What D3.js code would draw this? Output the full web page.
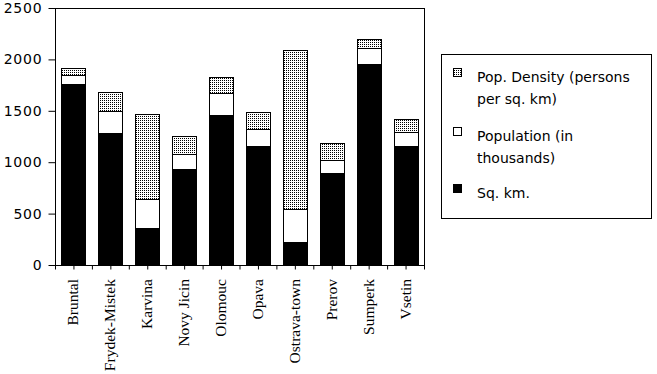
<!DOCTYPE html>
<html>
<head>
<meta charset="utf-8">
<script src="https://cdn.jsdelivr.net/npm/d3@7"></script>
<style>
  body { margin: 0; background: #fff; }
  text { font-family: "DejaVu Sans", sans-serif; font-size: 14px; fill: #000; }
  .xlab { font-family: "Liberation Serif", "Times New Roman", serif; font-size: 15.5px; }
</style>
</head>
<body>
<script>
const districts = ["Bruntal", "Frydek-Mistek", "Karvina", "Novy Jicin", "Olomouc", "Opava",
                   "Ostrava-town", "Prerov", "Sumperk", "Vsetin"];
const sqKm       = [1761, 1284, 360, 934, 1459, 1158, 224, 895, 1955, 1158];
const population = [90, 214, 279, 146, 214, 168, 321, 126, 156, 136];
const density    = [62, 182, 827, 175, 153, 159, 1543, 162, 84, 126];
const yTicks = [0, 500, 1000, 1500, 2000, 2500];
const seriesNames = [["Pop. Density (persons", "per sq. km)"], ["Population (in", "thousands)"], ["Sq. km."]];

const width = 657, height = 374;
const plotL = 55, plotR = 424, plotT = 8, plotB = 265;

const svg = d3.select("body").append("svg").attr("width", width).attr("height", height);

const defs = svg.append("defs");
const pat = defs.append("pattern").attr("id", "dots")
    .attr("patternUnits", "userSpaceOnUse").attr("width", 2).attr("height", 2);
pat.append("rect").attr("width", 2).attr("height", 2).attr("fill", "#fff");
pat.append("rect").attr("width", 1).attr("height", 1).attr("fill", "#000");

const x = d3.scaleBand().domain(districts).range([plotL, plotR]).paddingInner(0.35).paddingOuter(0.175);
const y = d3.scaleLinear().domain([0, 2500]).range([plotB, plotT]);

const rows = districts.map((d, i) => ({ name: d, sq: sqKm[i], pop: population[i], den: density[i] }));
const stack = d3.stack().keys(["sq", "pop", "den"])(rows);
const fills = { sq: "#000", pop: "#fff", den: "url(#dots)" };

// frame
svg.append("rect").attr("x", plotL + 0.5).attr("y", plotT + 0.5).attr("width", plotR - plotL).attr("height", plotB - plotT)
    .attr("fill", "none").attr("stroke", "#000");

svg.append("g").selectAll("g").data(stack).enter().append("g")
    .attr("fill", s => fills[s.key])
    .selectAll("rect").data(s => s).enter().append("rect")
    .attr("x", d => Math.round(x(d.data.name)) + 0.5)
    .attr("y", d => Math.round(y(d[1])) + 0.5)
    .attr("width", Math.round(x.bandwidth()))
    .attr("height", d => Math.round(y(d[0])) - Math.round(y(d[1])))
    .attr("stroke", "#000").attr("stroke-width", 1);

// y axis
const yAxis = svg.append("g").attr("transform", `translate(${plotL + 0.5},0)`)
    .call(d3.axisLeft(y).tickValues(yTicks).tickSize(7).tickPadding(6).tickFormat(d3.format("d")));
yAxis.select(".domain").remove();
yAxis.selectAll("text").style("font-family", "DejaVu Sans, sans-serif").style("font-size", "14px")
    .style("letter-spacing", "0.8px").attr("fill", "#000");
yAxis.selectAll("line").attr("stroke", "#000");

// x axis ticks at half band steps
const xi = d3.scaleLinear().domain([0, districts.length]).range([plotL, plotR]);
const xAxis = svg.append("g").attr("transform", `translate(0,${plotB + 0.5})`)
    .call(d3.axisBottom(xi).tickValues(d3.range(0, districts.length + 0.01, 0.5)).tickSize(4).tickFormat(""));
xAxis.select(".domain").remove();
xAxis.selectAll("line").attr("stroke", "#000");

svg.append("g").selectAll("text").data(districts).enter().append("text")
    .attr("class", "xlab")
    .attr("text-anchor", "end")
    .attr("transform", d => `translate(${x(d) + x.bandwidth() / 2 + 5},279) rotate(-90)`)
    .text(d => d);

// legend
const lg = svg.append("g");
lg.append("rect").attr("x", 441.5).attr("y", 54.5).attr("width", 210).attr("height", 164)
    .attr("fill", "#fff").attr("stroke", "#000");
const legFills = ["url(#dots)", "#fff", "#000"];
const entryY = [68, 127, 184];
seriesNames.forEach((lines, i) => {
  lg.append("rect").attr("x", 453.5).attr("y", entryY[i] + 0.5).attr("width", 8).attr("height", 8)
      .attr("fill", legFills[i]).attr("stroke", "#000");
  lines.forEach((t, j) => {
    lg.append("text").attr("x", 477).attr("y", entryY[i] + 14 + j * 22).text(t);
  });
});
</script>
</body>
</html>
